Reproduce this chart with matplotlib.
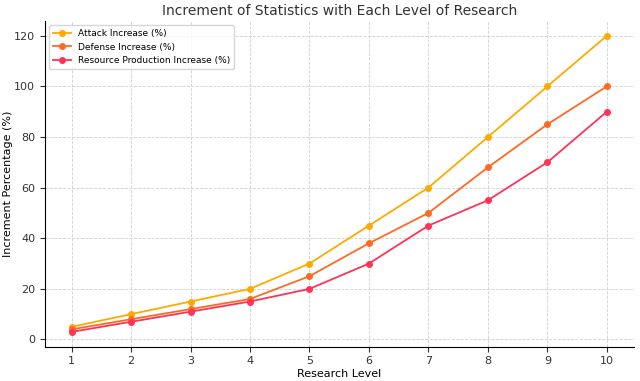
import matplotlib
matplotlib.use("Agg")
import matplotlib.pyplot as plt

levels = [1, 2, 3, 4, 5, 6, 7, 8, 9, 10]
attack = [5, 10, 15, 20, 30, 45, 60, 80, 100, 120]
defense = [4, 8, 12, 16, 25, 38, 50, 68, 85, 100]
resource = [3, 7, 11, 15, 20, 30, 45, 55, 70, 90]

fig, ax = plt.subplots(figsize=(6.4, 3.81), dpi=100)
ax.plot(levels, attack, marker='o', markersize=4, color='#FFAA00', lw=1.3, label='Attack Increase (%)')
ax.plot(levels, defense, marker='o', markersize=4, color='#FF6A22', lw=1.3, label='Defense Increase (%)')
ax.plot(levels, resource, marker='o', markersize=4, color='#FF3355', lw=1.3, label='Resource Production Increase (%)')

ax.set_title('Increment of Statistics with Each Level of Research', fontsize=10, color='#333333', pad=4)
ax.set_xlabel('Research Level', fontsize=8, labelpad=2)
ax.set_ylabel('Increment Percentage (%)', fontsize=8, labelpad=1)
ax.set_xticks(levels)
ax.tick_params(labelsize=8, colors='#333333')
ax.grid(True, linestyle='--', color='#d0d0d0', linewidth=0.6)
for s in ['top', 'right']:
    ax.spines[s].set_visible(False)
ax.legend(loc='upper left', fontsize=6.5, frameon=True)

fig.subplots_adjust(left=0.07, right=0.99, top=0.945, bottom=0.09)
fig.savefig('out.png', dpi=100)
